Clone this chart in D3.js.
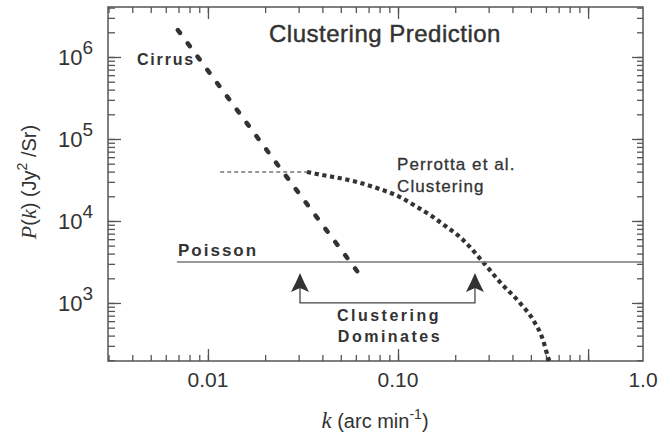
<!DOCTYPE html>
<html>
<head>
<meta charset="utf-8">
<script src="https://cdn.jsdelivr.net/npm/d3@7/dist/d3.min.js"></script>
<style>
  html, body { margin: 0; padding: 0; background: #fff; }
  svg { display: block; }
  text { font-family: "Liberation Sans", Arial, sans-serif; fill: #333; }
</style>
</head>
<body>
<svg id="chart" width="662" height="434"></svg>
<script>
// ---------- data ----------
const xDomain = [0.00298, 1.945];
const yDomain = [196, 4.07e6];

const cirrusK = [0.00695, 0.0233, 0.0631];
const cirrusP = [2.13e6, 4.82e4, 2.19e3];

const perrottaFlatK = [0.0116, 0.0332];
const perrottaFlatP = [3.96e4, 3.96e4];

const perrottaK = [0.0332, 0.0375, 0.0608, 0.0774, 0.1024, 0.126, 0.153, 0.166, 0.220, 0.280, 0.344, 0.438, 0.514, 0.579, 0.615, 0.625];
const perrottaP = [3.96e4, 3.74e4, 2.99e4, 2.52e4, 1.96e4, 1.48e4, 1.12e4, 9720, 5870, 3160, 1800, 1000, 621, 354, 219, 196];

const poissonK = [0.00687, 1.945];
const poissonP = [3160, 3160];

const arrowK = [0.0305, 0.254];
const arrowTopP = 2200;
const bracketP = 1000;

const xMajorTicks = [0.01, 0.1, 1];
const xLabelValues = [0.01, 0.1, 1.945];
const xLabelTexts = ["0.01", "0.10", "1.0"];
const yMajorTicks = [1e3, 1e4, 1e5, 1e6];
const yLabelExps = ["3", "4", "5", "6"];

// ---------- layout ----------
const svg = d3.select("#chart");
const L = 108, T = 7, R = 643, B = 361;
const x = d3.scaleLog().domain(xDomain).range([L, R]);
const y = d3.scaleLog().domain(yDomain).range([B, T]);

const xMinor = x.ticks().filter(v => v >= xDomain[0] && v <= xDomain[1]);
const yMinor = y.ticks().filter(v => v >= yDomain[0] && v <= yDomain[1]);

const axisColor = "#555";
function styleAxis(g) {
  g.select(".domain").remove();
  g.selectAll(".tick line").attr("stroke", axisColor).attr("stroke-width", 1.3);
  g.selectAll(".tick text").remove();
}
// bottom
svg.append("g").attr("transform", `translate(0,${B})`)
  .call(d3.axisBottom(x).tickValues(xMinor).tickSize(-6).tickFormat("")).call(styleAxis);
svg.append("g").attr("transform", `translate(0,${B})`)
  .call(d3.axisBottom(x).tickValues(xMajorTicks).tickSize(-12).tickFormat("")).call(styleAxis);
// top
svg.append("g").attr("transform", `translate(0,${T})`)
  .call(d3.axisTop(x).tickValues(xMinor).tickSize(-6).tickFormat("")).call(styleAxis);
svg.append("g").attr("transform", `translate(0,${T})`)
  .call(d3.axisTop(x).tickValues(xMajorTicks).tickSize(-12).tickFormat("")).call(styleAxis);
// left
svg.append("g").attr("transform", `translate(${L},0)`)
  .call(d3.axisLeft(y).tickValues(yMinor).tickSize(-7).tickFormat("")).call(styleAxis);
svg.append("g").attr("transform", `translate(${L},0)`)
  .call(d3.axisLeft(y).tickValues(yMajorTicks).tickSize(-13).tickFormat("")).call(styleAxis);
// right
svg.append("g").attr("transform", `translate(${R},0)`)
  .call(d3.axisRight(y).tickValues(yMinor).tickSize(-6).tickFormat("")).call(styleAxis);
svg.append("g").attr("transform", `translate(${R},0)`)
  .call(d3.axisRight(y).tickValues(yMajorTicks).tickSize(-11).tickFormat("")).call(styleAxis);

// frame
svg.append("rect").attr("x", L).attr("y", T).attr("width", R - L).attr("height", B - T)
  .attr("fill", "none").attr("stroke", axisColor).attr("stroke-width", 1.5);

// tick labels
svg.append("g").selectAll("text").data(xLabelValues).join("text")
  .attr("x", d => x(d)).attr("y", 387).attr("text-anchor", "middle")
  .attr("font-size", 21).text((d, i) => xLabelTexts[i]);

const yl = svg.append("g").selectAll("text").data(yMajorTicks).join("text")
  .attr("x", 93).attr("y", d => y(d) + 8).attr("text-anchor", "end")
  .attr("font-size", 22);
yl.append("tspan").text("10");
yl.append("tspan").attr("dy", -11).attr("font-size", 19).text((d, i) => yLabelExps[i]);

// ---------- marks ----------
const line = d3.line().x(d => x(d[0])).y(d => y(d[1]));
const g = svg.append("g");
g.append("path").datum(cirrusK.map((k, i) => [k, cirrusP[i]])).attr("d", line)
  .attr("fill", "none").attr("stroke", "#333").attr("stroke-width", 4.5)
  .attr("stroke-linecap", "round").attr("stroke-dasharray", "3.5,13");

g.append("path").datum(perrottaFlatK.map((k, i) => [k, perrottaFlatP[i]])).attr("d", line)
  .attr("fill", "none").attr("stroke", "#333").attr("stroke-width", 1.1)
  .attr("stroke-dasharray", "4,3");

g.append("path").datum(perrottaK.map((k, i) => [k, perrottaP[i]]))
  .attr("d", line.curve(d3.curveMonotoneX))
  .attr("fill", "none").attr("stroke", "#333").attr("stroke-width", 4.2)
  .attr("stroke-dasharray", "4.2,3.6");
line.curve(d3.curveLinear);

g.append("path").datum(poissonK.map((k, i) => [k, poissonP[i]])).attr("d", line)
  .attr("fill", "none").attr("stroke", "#777").attr("stroke-width", 1.5);

// bracket + arrows
g.append("path")
  .attr("d", `M${x(arrowK[0])},${y(arrowTopP) + 10}V${y(bracketP)}H${x(arrowK[1])}V${y(arrowTopP) + 10}`)
  .attr("fill", "none").attr("stroke", "#444").attr("stroke-width", 1.3);
g.selectAll(".ah").data(arrowK).join("path").attr("class", "ah")
  .attr("transform", d => `translate(${x(d)},${y(arrowTopP) - 2})`)
  .attr("d", "M0,0 L4,9 L9,19 L0,15 L-9,19 L-4,9 Z")
  .attr("fill", "#333");

// ---------- annotations ----------
svg.append("text").attr("x", 385).attr("y", 42).attr("text-anchor", "middle")
  .attr("font-size", 24).attr("letter-spacing", 0.5)
  .attr("stroke", "#333").attr("stroke-width", 0.45).text("Clustering Prediction");
svg.append("text").attr("x", 137).attr("y", 65).attr("font-size", 16).attr("font-weight", "bold")
  .attr("letter-spacing", 1.8).text("Cirrus");
svg.append("text").attr("x", 397).attr("y", 170).attr("font-size", 17)
  .attr("stroke", "#333").attr("stroke-width", 0.3)
  .attr("letter-spacing", 1.1).text("Perrotta et al.");
svg.append("text").attr("x", 397).attr("y", 192).attr("font-size", 17)
  .attr("stroke", "#333").attr("stroke-width", 0.3)
  .attr("letter-spacing", 1.1).text("Clustering");
svg.append("text").attr("x", 178).attr("y", 256).attr("font-size", 17).attr("font-weight", "bold")
  .attr("letter-spacing", 2).text("Poisson");
svg.append("text").attr("x", 389).attr("y", 321).attr("text-anchor", "middle").attr("font-size", 16)
  .attr("font-weight", "bold").attr("letter-spacing", 2.5).text("Clustering");
svg.append("text").attr("x", 390).attr("y", 342).attr("text-anchor", "middle").attr("font-size", 16)
  .attr("font-weight", "bold").attr("letter-spacing", 2.5).text("Dominates");

// axis titles
const xt = svg.append("text").attr("x", 375).attr("y", 428).attr("text-anchor", "middle").attr("font-size", 20);
xt.append("tspan").attr("font-family", "Liberation Serif, serif").attr("font-style", "italic").attr("font-size", 23).text("k");
xt.append("tspan").text("  (arc min");
xt.append("tspan").attr("dy", -9).attr("font-size", 14).text("-1");
xt.append("tspan").attr("dy", 9).text(")");

const yt = svg.append("text").attr("transform", "translate(36,182) rotate(-90)")
  .attr("text-anchor", "middle").attr("font-size", 20);
yt.append("tspan").attr("font-family", "Liberation Serif, serif").attr("font-style", "italic").attr("font-size", 22).text("P");
yt.append("tspan").text("(");
yt.append("tspan").attr("font-family", "Liberation Serif, serif").attr("font-style", "italic").attr("font-size", 22).text("k");
yt.append("tspan").text(")  (Jy");
yt.append("tspan").attr("dy", -9).attr("font-size", 14).text("2");
yt.append("tspan").attr("dy", 9).text(" /Sr)");
</script>
</body>
</html>
